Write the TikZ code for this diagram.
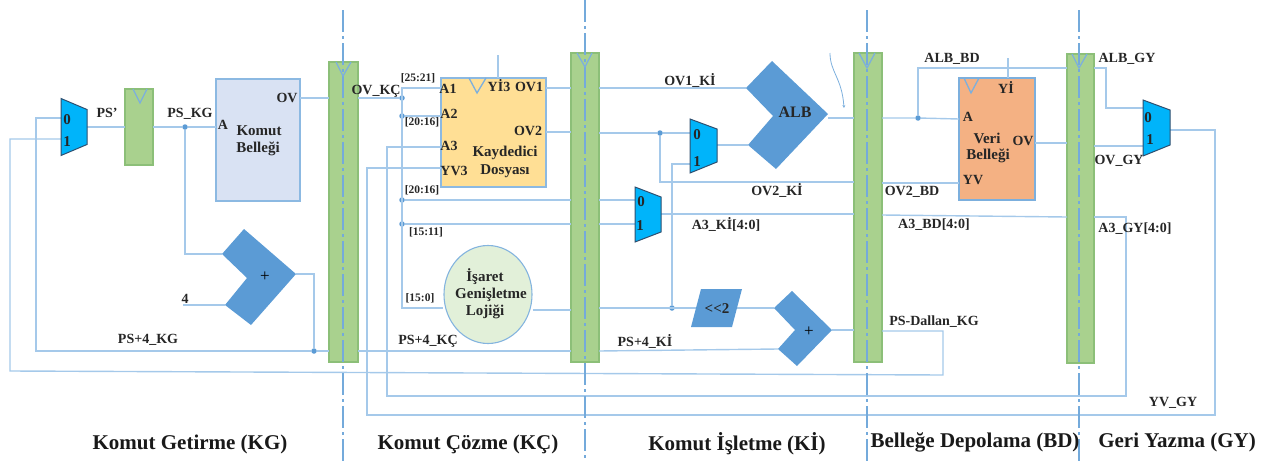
\documentclass[tikz,border=0pt]{standalone}
\usepackage{fontspec}
\setmainfont{Liberation Serif}
\usetikzlibrary{arrows.meta,shapes.geometric}
\definecolor{wirec}{HTML}{A5C9EA}
\definecolor{bluec}{HTML}{5B9BD5}
\definecolor{greenc}{HTML}{A9D18E}
\definecolor{greene}{HTML}{8CBF78}
\definecolor{muxc}{HTML}{00B4FA}
\definecolor{muxe}{HTML}{2F4F6F}
\definecolor{kbc}{HTML}{D9E2F3}
\definecolor{rfc}{HTML}{FFDF95}
\definecolor{vbc}{HTML}{F4B183}
\definecolor{sec}{HTML}{E2F0D9}
\tikzset{
 x=1pt,y=-1pt,
 wire/.style={draw=wirec,line width=1.4pt},
 box/.style={rectangle,inner sep=0pt,outer sep=0pt,line width=1.2pt},
 pipe/.style={box,fill=greenc,draw=greene},
 clk/.style={draw=bluec!80!white,line width=1.3pt},
 guide/.style={draw=bluec!85!white,line width=1.2pt,dash pattern=on 22pt off 4pt on 3pt off 4pt},
 dot/.style={circle,fill=bluec,inner sep=0pt,minimum size=5.5pt},
 ghost/.style={rectangle,inner sep=0pt,outer sep=0pt},
 muxs/.style={fill=muxc,draw=muxe,line width=1pt,line join=miter},
 addr/.style={fill=bluec},
 lab/.style={inner sep=0pt,font=\fontsize{14}{15}\selectfont\bfseries,text=black!85},
 sm/.style={inner sep=0pt,font=\fontsize{11.5}{13}\selectfont\bfseries,text=black!85},
 big/.style={inner sep=0pt,font=\fontsize{15}{17}\selectfont\bfseries,text=black!85},
 ttl/.style={inner sep=0pt,font=\fontsize{21}{23}\selectfont\bfseries,text=black!90},
}
\begin{document}
\begin{tikzpicture}
\useasboundingbox (0,0) rectangle (1283,461);
% boxes
\node[pipe,minimum width=28pt,minimum height=76pt] (r0) at (139,127) {};
\node[pipe,minimum width=29pt,minimum height=300pt] (p1) at (343.5,212) {};
\node[pipe,minimum width=28pt,minimum height=309pt] (p2) at (585,207.5) {};
\node[pipe,minimum width=28pt,minimum height=309pt] (p3) at (868,207.5) {};
\node[pipe,minimum width=27pt,minimum height=309pt] (p4) at (1080.5,208.5) {};
\node[box,fill=kbc,draw=bluec!70!white,minimum width=84pt,minimum height=122pt] (kb) at (258,140) {};
\node[box,fill=rfc,draw=bluec!70!white,minimum width=105pt,minimum height=109pt] (rf) at (493.5,132.5) {};
\node[box,fill=vbc,draw=bluec!80!white,minimum width=76pt,minimum height=122pt] (vb) at (997,139) {};
\node[ellipse,draw=bluec!75!white,fill=sec,line width=1.1pt,inner sep=0pt,minimum width=88pt,minimum height=98pt] (se) at (488,294.5) {};
% mux holders
\node[ghost,minimum width=26pt,minimum height=57pt] (m1) at (74,127) {};
\node[ghost,minimum width=27pt,minimum height=54pt] (m2) at (703.5,146) {};
\node[ghost,minimum width=26pt,minimum height=55pt] (m3) at (648,214.5) {};
\node[ghost,minimum width=27pt,minimum height=56pt] (m4) at (1156.5,128) {};
% polygon vertices
\coordinate (a1a) at (222,254); \coordinate (a1b) at (244,229); \coordinate (a1c) at (296,274);
\coordinate (a1d) at (251,325); \coordinate (a1e) at (225,305); \coordinate (a1f) at (247,278);
\coordinate (a2a) at (774,308); \coordinate (a2b) at (792,291); \coordinate (a2c) at (832,330);
\coordinate (a2d) at (797,366); \coordinate (a2e) at (778,349); \coordinate (a2f) at (795,330);
\coordinate (ala) at (746,88); \coordinate (alb) at (772,61); \coordinate (alc) at (828,114);
\coordinate (ald) at (776,169); \coordinate (ale) at (748,145); \coordinate (alf) at (773,116);
\coordinate (sla) at (701,289); \coordinate (slb) at (742,289); \coordinate (slc) at (732,327); \coordinate (sld) at (691,327);
\coordinate (sl) at (717,308);
% junctions
\node[dot] (j1) at (185,127) {};
\node[dot] (j2) at (314,351) {};
\node[dot] (j3) at (402,98) {};
\node[dot] (j4) at (402,116) {};
\node[dot] (j5) at (402,200) {};
\node[dot] (j6) at (402,224) {};
\node[dot] (j7) at (660,133) {};
\node[dot] (j8) at (672,308) {};
\node[dot] (j9) at (918,118) {};
% free ends and corners
\coordinate (four) at (183,305);
\coordinate (c1) at (36,351); \coordinate (c2) at (36,118);
\coordinate (c3) at (10,139); \coordinate (c4) at (10,371); \coordinate (c5) at (943,375); \coordinate (c6) at (943,331);
\coordinate (bus1) at (402,88); \coordinate (bus2) at (402,308);
\coordinate (c7) at (387,147); \coordinate (c8) at (387,396); \coordinate (c9) at (1126,396); \coordinate (c10) at (1126,217);
\coordinate (c11) at (367,168); \coordinate (c12) at (367,415); \coordinate (c13) at (1215,415); \coordinate (c14) at (1215,130);
\coordinate (c15) at (660,182);
\coordinate (c16) at (672,164);
\coordinate (c17) at (918,68);
\coordinate (c18) at (1106,68); \coordinate (c19) at (1106,108);
\coordinate (c20) at (314,274);
\coordinate (yi3t) at (498,55); \coordinate (yit) at (1008,58);
\coordinate (cu1) at (830,53); \coordinate (cu2) at (844,108);
% wires
\draw[wire] (m1.east|-0,127) -- (r0.west|-0,127);
\draw[wire] (r0.east|-0,127) -- (j1) -- (kb.west|-0,127);
\draw[wire] (j1) |- (a1a);
\draw[wire] (four) -- (a1e);
\draw[wire] (a1c) -- (c20) -- (j2);
\draw[wire] (p1.west|-0,351) -- (j2) -- (c1) -- (c2) -- (m1.west|-0,118);
\draw[wire] (m1.west|-0,139) -- (c3) -- (c4) -- (c5) -- (c6) -- (p3.east|-0,331);
\draw[wire] (kb.east|-0,98) -- (p1.west|-0,98);
\draw[wire] (p1.east|-0,98) -- (j3);
\draw[wire] (rf.west|-0,88) -- (bus1) -- (bus2) -- (se.west|-0,308);
\draw[wire] (j4) -- (rf.west|-0,116);
\draw[wire] (j5) -- (p2.west|-0,200);
\draw[wire] (j6) -- (p2.west|-0,224);
\draw[wire] (p2.east|-0,200) -- (m3.west|-0,200);
\draw[wire] (p2.east|-0,224) -- (m3.west|-0,224);
\draw[wire] (rf.west|-0,147) -- (c7) -- (c8) -- (c9) -- (c10) -- (p4.east|-0,217);
\draw[wire] (rf.west|-0,168) -- (c11) -- (c12) -- (c13) -- (c14) -- (m4.east|-0,130);
\draw[wire] (rf.east|-0,88) -- (p2.west|-0,88);
\draw[wire] (p2.east|-0,88) -- (ala);
\draw[wire] (rf.east|-0,132) -- (p2.west|-0,132);
\draw[wire] (p2.east|-0,133) -- (j7) -- (m2.west|-0,133);
\draw[wire] (j7) -- (c15) -- (p3.west|-0,182);
\draw[wire] (p3.east|-0,183) -- (vb.west|-0,183);
\draw[wire] (m2.west|-0,164) -- (c16) -- (j8);
\draw[wire] (se.east|-0,310) -- (p2.west|-0,310);
\draw[wire] (p2.east|-0,308) -- (sl);
\draw[wire] (sl) -- (a2a);
\draw[wire] (p1.east|-0,351) -- (p2.west|-0,351);
\draw[wire] (p2.east|-0,351) -- (a2e);
\draw[wire] (a2c) -- (p3.west|-0,330);
\draw[wire] (m2.east|-0,145) -- (ale);
\draw[wire] (m3.east|-0,214) -- (p3.west|-0,214);
\draw[wire] (p3.east|-0,215) -- (p4.west|-0,217);
\draw[wire] (alc|-0,118) -- (p3.west|-0,118);
\draw[wire] (p3.east|-0,118) -- (j9) -- (vb.west|-0,119);
\draw[wire] (j9) -- (c17) -- (p4.west|-0,68);
\draw[wire] (p4.east|-0,68) -- (c18) -- (c19) -- (m4.west|-0,108);
\draw[wire] (vb.east|-0,143) -- (p4.west|-0,143);
\draw[wire] (p4.east|-0,146) -- (m4.west|-0,146);
\draw[wire] (yi3t) -- (yi3t|-rf.north);
\draw[wire] (yit) -- (yit|-vb.north);
\draw[draw=bluec!80!white,line width=0.8pt,-{Stealth[length=3pt,width=3pt]}] (cu1) .. controls (830,72) and (842,78) .. (cu2);
% polygons
\fill[addr] (a1a) -- (a1b) -- (a1c) -- (a1d) -- (a1e) -- (a1f) -- cycle;
\fill[addr] (a2a) -- (a2b) -- (a2c) -- (a2d) -- (a2e) -- (a2f) -- cycle;
\fill[addr] (ala) -- (alb) -- (alc) -- (ald) -- (ale) -- (alf) -- cycle;
\fill[addr] (sla) -- (slb) -- (slc) -- (sld) -- cycle;
\draw[muxs] (m1.north west) -- ++(26,11) -- ++(0,35) -- (m1.south west) -- cycle;
\draw[muxs] (m2.north west) -- ++(27,10) -- ++(0,33) -- (m2.south west) -- cycle;
\draw[muxs] (m3.north west) -- ++(26,10) -- ++(0,35) -- (m3.south west) -- cycle;
\draw[muxs] (m4.north west) -- ++(27,10) -- ++(0,35) -- (m4.south west) -- cycle;
% stage lines
\coordinate (g1t) at (343,10); \coordinate (g1b) at (343,461);
\coordinate (g2t) at (585,0); \coordinate (g2b) at (585,461);
\coordinate (g3t) at (867,10); \coordinate (g3b) at (867,461);
\coordinate (g4t) at (1079,10); \coordinate (g4b) at (1079,461);
\draw[guide] (g1t) -- (g1b);
\draw[guide] (g2t) -- (g2b);
\draw[guide] (g3t) -- (g3b);
\draw[guide] (g4t) -- (g4b);
% clock triangles
\draw[clk] (133,89) -- (140,103) -- (147,89);
\draw[clk] (336,62) -- (343,76) -- (351,62);
\draw[clk] (469,78) -- (477,93) -- (486,78);
\draw[clk] (577,53) -- (585,67) -- (592,53);
\draw[clk] (859,53) -- (867,68) -- (875,53);
\draw[clk] (1072,54) -- (1079,68) -- (1087,54);
\draw[clk] (964,78) -- (971,93) -- (979,78);
% labels
\node[lab] (tPSp) at (107,113) {PS'};
\node[lab] (tPSKG) at (190,114) {PS\_KG};
\node[lab] (tKBA) at (223,125) {A};
\node[lab] (tKBO) at (287,98) {OV};
\node[big] (tKB1) at (259,131) {Komut};
\node[big] (tKB2) at (258,149) {Belleği};
\node[big] (tM10) at (67,120) {0};
\node[big] (tM11) at (67,142) {1};
\node[big,font=\fontsize{14}{15}\selectfont\bfseries] (tOVKC) at (376,91) {OV\_KÇ};
\node[sm] (tb1) at (418,78) {[25:21]};
\node[sm] (tb2) at (422,122) {[20:16]};
\node[sm] (tb3) at (422,190) {[20:16]};
\node[sm] (tb4) at (426,232) {[15:11]};
\node[sm] (tb5) at (420,298) {[15:0]};
\node[lab] (tA1) at (448,89) {A1};
\node[lab] (tA2) at (449,114) {A2};
\node[lab] (tA3) at (449,146) {A3};
\node[lab] (tYV3) at (454,171) {YV3};
\node[lab] (tYI3) at (499,86) {Yİ3};
\node[lab] (tOV1) at (529,87) {OV1};
\node[lab] (tOV2) at (528,131) {OV2};
\node[big] (tRF1) at (505,153) {Kaydedici};
\node[big] (tRF2) at (505,171) {Dosyası};
\node[big] (tSE1) at (485,277) {İşaret};
\node[big] (tSE2) at (491,295) {Genişletme};
\node[big] (tSE3) at (485,312) {Lojiği};
\node[lab] (tPKG) at (148,340) {PS+4\_KG};
\node[lab] (tPKC) at (428,341) {PS+4\_KÇ};
\node[lab] (tPKI) at (645,341) {PS+4\_Kİ};
\node[lab] (tOV1KI) at (690,80) {OV1\_Kİ};
\node[big] (tM20) at (697,135) {0};
\node[big] (tM21) at (697,162) {1};
\node[big] (tM30) at (641,202) {0};
\node[big] (tM31) at (640,226) {1};
\node[lab] (tA3KI) at (726,224) {A3\_Kİ[4:0]};
\node[big] (tSL) at (717,309) {<{}<2};
\node[big,font=\fontsize{16}{18}\selectfont\bfseries] (tALB) at (795,112) {ALB};
\node[font=\fontsize{17}{18}\selectfont,inner sep=0pt] (tP1) at (265,277) {+};
\node[font=\fontsize{17}{18}\selectfont,inner sep=0pt] (tP2) at (809,332) {+};
\node[lab] (tOV2KI) at (777,190) {OV2\_Kİ};
\node[lab] (tOV2BD) at (912,192) {OV2\_BD};
\node[lab] (tA3BD) at (934,225) {A3\_BD[4:0]};
\node[lab] (tDAL) at (934,322) {PS-Dallan\_KG};
\node[lab] (tALBBD) at (952,59) {ALB\_BD};
\node[big] (tV1) at (987,138) {Veri};
\node[big] (tV2) at (988,156) {Belleği};
\node[lab] (tVA) at (968,117) {A};
\node[lab] (tVY) at (1006,87) {Yİ};
\node[lab] (tVO) at (1023,141) {OV};
\node[lab] (tVV) at (973,180) {YV};
\node[lab] (tALBGY) at (1127,59) {ALB\_GY};
\node[lab] (tOVGY) at (1119,161) {OV\_GY};
\node[lab] (tA3GY) at (1135,229) {A3\_GY[4:0]};
\node[lab] (tYVGY) at (1173,403) {YV\_GY};
\node[big] (tM40) at (1148,118) {0};
\node[big] (tM41) at (1150,140) {1};
\node[lab] (t4) at (185,299) {4};
\node[ttl] (tS1) at (190,444) {Komut Getirme (KG)};
\node[ttl] (tS2) at (468,444) {Komut Çözme (KÇ)};
\node[ttl] (tS3) at (737,444) {Komut İşletme (Kİ)};
\node[ttl] (tS4) at (975,442) {Belleğe Depolama (BD)};
\node[ttl] (tS5) at (1177,442) {Geri Yazma (GY)};
\end{tikzpicture}
\end{document}
